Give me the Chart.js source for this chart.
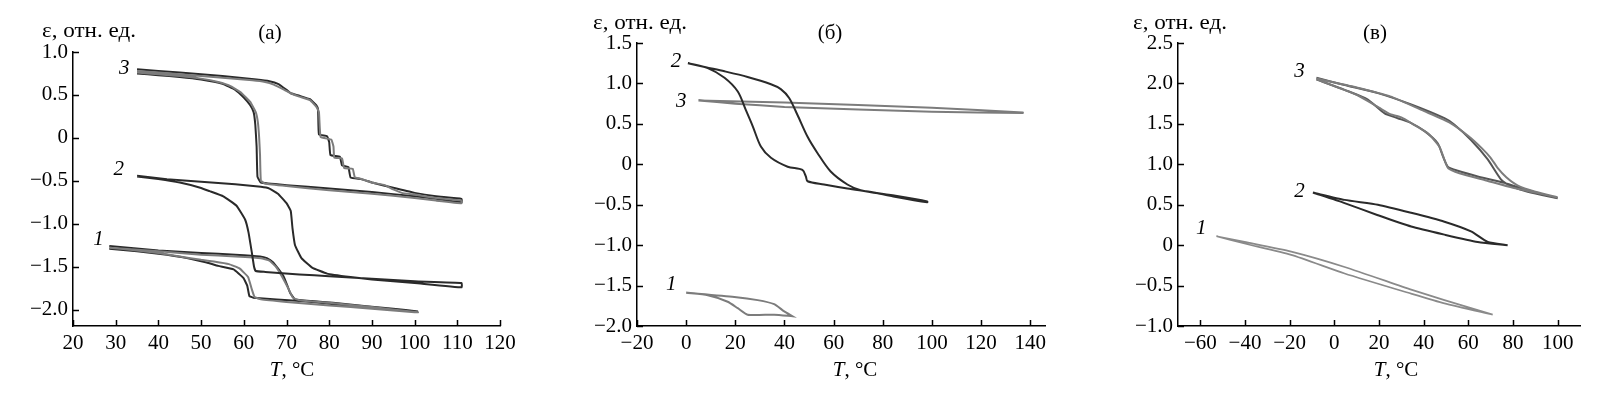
<!DOCTYPE html>
<html>
<head>
<meta charset="utf-8">
<script src="https://cdn.jsdelivr.net/npm/chart.js@4.4.1/dist/chart.umd.min.js"></script>
<style>
    body { margin: 0; background: #fff; width: 1618px; height: 399px; position: relative; overflow: hidden; }
    canvas { position: absolute; top: 0; }
</style>
</head>
<body>
<canvas id="chartA" width="540" height="399" style="left:0"></canvas>
<canvas id="chartB" width="538" height="399" style="left:540px"></canvas>
<canvas id="chartC" width="540" height="399" style="left:1078px"></canvas>
<script>
// Панель (а): кривые 1, 2, 3 (тёмный и серый циклы)
const a3T = [35, 45, 55, 63, 66, 68, 70, 71, 73, 75.5, 77, 77.4, 77.6, 79.5, 80, 80.3, 82.5, 83, 84.5, 85, 87.5, 90, 95, 100, 105, 111,
             111, 105, 100, 90, 80, 70, 64, 63.2, 63, 62.7, 62.3, 61.5, 60, 58, 55, 50, 45, 40, 35];
const a3E = [0.80, 0.76, 0.72, 0.68, 0.66, 0.63, 0.56, 0.52, 0.49, 0.45, 0.38, 0.33, 0.04, 0.02, -0.05, -0.20, -0.22, -0.32, -0.34, -0.46, -0.48, -0.52, -0.58, -0.64, -0.68, -0.71,
             -0.75, -0.71, -0.68, -0.63, -0.59, -0.55, -0.52, -0.45, -0.10, 0.15, 0.30, 0.38, 0.47, 0.56, 0.63, 0.68, 0.71, 0.73, 0.75];
const a3gT = [35, 45, 55, 62, 65, 67, 69.5, 71, 73, 75.5, 77, 77.6, 78, 80.5, 81, 81.2, 83, 83.5, 85.5, 86, 87, 90, 93, 95, 97, 100, 105, 111,
              111, 105, 100, 90, 80, 70, 65, 64, 63.8, 63.6, 63.3, 62.8, 61.5, 59.5, 57, 54, 50, 45, 40, 35];
const a3gE = [0.78, 0.74, 0.70, 0.67, 0.65, 0.62, 0.56, 0.52, 0.48, 0.44, 0.36, 0.30, 0.01, -0.02, -0.10, -0.23, -0.24, -0.35, -0.36, -0.46, -0.47, -0.52, -0.55, -0.60, -0.64, -0.66, -0.70, -0.73,
              -0.76, -0.73, -0.70, -0.65, -0.61, -0.56, -0.53, -0.50, -0.20, 0.0, 0.18, 0.30, 0.42, 0.52, 0.60, 0.65, 0.69, 0.72, 0.74, 0.76];
const a2T = [35, 42, 50, 58, 64, 66, 68, 70, 71, 71.4, 72, 73.5, 76, 79.5, 85, 90, 100, 111,
             111, 100, 90, 80, 73, 65, 62.8, 62.4, 61.9, 61.1, 60.3, 58.3, 55.2, 52, 49.8, 45, 40, 35];
const a2E = [-0.44, -0.48, -0.51, -0.54, -0.57, -0.59, -0.65, -0.76, -0.85, -1.05, -1.25, -1.40, -1.51, -1.58, -1.62, -1.65, -1.69, -1.74,
             -1.69, -1.67, -1.64, -1.61, -1.59, -1.56, -1.55, -1.50, -1.34, -1.10, -0.95, -0.79, -0.68, -0.62, -0.58, -0.52, -0.48, -0.45];
const a1T = [28.5, 40, 50, 58, 63.8, 65.4, 66.9, 68, 69.3, 70.2, 70.8, 72, 76, 80.9, 88.7, 95, 100.8,
             100.8, 95, 88.7, 80, 73.2, 62.2, 61.3, 60.8, 59.9, 57.6, 54, 51.3, 46.7, 42, 35, 28.5];
const a1E = [-1.26, -1.31, -1.34, -1.36, -1.38, -1.40, -1.45, -1.52, -1.61, -1.72, -1.80, -1.88, -1.90, -1.92, -1.96, -1.99, -2.02,
             -2.02, -1.99, -1.97, -1.93, -1.90, -1.86, -1.84, -1.72, -1.63, -1.53, -1.49, -1.45, -1.40, -1.36, -1.32, -1.29];
const a1gT = [28.5, 40, 50, 58, 64, 66, 67.5, 69, 70.5, 71.5, 73, 80, 90, 100.8,
              100, 90, 80, 70, 64, 62.5, 61.8, 61, 59, 56.5, 53, 50, 45, 40, 35, 28.5];
const a1gE = [-1.28, -1.32, -1.36, -1.38, -1.40, -1.43, -1.50, -1.62, -1.76, -1.86, -1.89, -1.92, -1.97, -2.03,
              -2.03, -1.99, -1.95, -1.91, -1.88, -1.85, -1.75, -1.62, -1.52, -1.47, -1.44, -1.42, -1.38, -1.34, -1.31, -1.28];

// Панель (б)
const b2T = [0.7, 8, 15.6, 25, 34.5, 38.5, 41.9, 45.3, 49.4, 53.4, 58.8, 65.6, 71, 83.2, 98.1,
             98.1, 83, 76.4, 65.6, 56.1, 49.4, 48.7, 47.3, 41.3, 34.5, 30.4, 27.1, 24.3, 21, 15.6, 8.8, 0.7];
const b2E = [1.25, 1.20, 1.15, 1.08, 0.99, 0.93, 0.82, 0.61, 0.34, 0.14, -0.09, -0.25, -0.32, -0.38, -0.46,
             -0.47, -0.39, -0.35, -0.30, -0.25, -0.21, -0.15, -0.07, -0.03, 0.08, 0.22, 0.47, 0.67, 0.90, 1.07, 1.19, 1.25];
const b3T = [5, 40, 100, 137, 137, 100, 40, 20, 5];
const b3E = [0.79, 0.765, 0.70, 0.64, 0.635, 0.65, 0.71, 0.75, 0.79];
const b1T = [0, 19.6, 29.1, 35.8, 39.9, 43.3, 43.3, 35.8, 25, 21, 16.9, 8.8, 0];
const b1E = [-1.587, -1.64, -1.68, -1.73, -1.82, -1.88, -1.88, -1.86, -1.86, -1.78, -1.70, -1.62, -1.59];

// Панель (в)
const c3T = [-8, 4.6, 19.5, 34.4, 49.3, 53.8, 61.2, 68.7, 74.7, 79.1, 86.6, 100,
             100, 86.6, 76.1, 64.2, 55.3, 50.8, 48.6, 46.3, 40.4, 34.4, 28.4, 22.5, 15, 4.6, -8];
const c3E = [2.07, 1.98, 1.88, 1.74, 1.57, 1.49, 1.30, 1.06, 0.81, 0.73, 0.66, 0.58,
             0.58, 0.68, 0.77, 0.85, 0.92, 0.97, 1.10, 1.26, 1.41, 1.51, 1.57, 1.63, 1.80, 1.92, 2.05];
const c3gT = [-8, 10, 25, 40, 52, 60, 66, 70, 73, 77, 82, 90, 100,
              100, 90, 80, 68, 56, 51, 49, 47, 42, 35, 30, 25, 20, 10, -8];
const c3gE = [2.06, 1.95, 1.84, 1.66, 1.51, 1.35, 1.20, 1.08, 0.96, 0.84, 0.74, 0.66, 0.59,
              0.59, 0.65, 0.71, 0.80, 0.89, 0.95, 1.08, 1.22, 1.38, 1.50, 1.58, 1.62, 1.70, 1.86, 2.05];
const c2T = [-9.6, 4.6, 19.5, 34.4, 49.3, 61.2, 68.7, 77.6, 77.6, 64.2, 49.3, 34.4, 19.5, 4.6, -9.6];
const c2E = [0.65, 0.56, 0.50, 0.40, 0.29, 0.17, 0.04, 0.0, 0.0, 0.04, 0.13, 0.23, 0.37, 0.52, 0.65];
const c1T = [-52.8, -40.2, -19.3, 4.6, 34.4, 49.3, 70.9, 70.9, 49.3, 34.4, 4.6, -19.3, -40.2, -52.8];
const c1E = [0.11, 0.04, -0.08, -0.27, -0.55, -0.68, -0.86, -0.86, -0.72, -0.60, -0.35, -0.12, 0.02, 0.11];

// Деления осей
const xTicksA = [20, 30, 40, 50, 60, 70, 80, 90, 100, 110, 120];
const yTicksA = [-2.0, -1.5, -1.0, -0.5, 0, 0.5, 1.0];
const xTicksB = [-20, 0, 20, 40, 60, 80, 100, 120, 140];
const yTicksB = [-2.0, -1.5, -1.0, -0.5, 0, 0.5, 1.0, 1.5];
const xTicksC = [-60, -40, -20, 0, 20, 40, 60, 80, 100];
const yTicksC = [-1.0, -0.5, 0, 0.5, 1.0, 1.5, 2.0, 2.5];

// Номера кривых
const numText = ['1', '2', '3'];
const numTA = [26, 30.7, 32], numEA = [-1.18, -0.37, 0.81];
const numTB = [-6.1, -4.1, -2], numEB = [-1.49, 1.27, 0.78];
const numTC = [-59.6, -15.6, -15.6], numEC = [0.21, 0.66, 2.15];

const DARK = '#2a2a2a';
const GRAY = '#7c7c7c';
const FONT = '"Liberation Serif", "Times New Roman", serif';
const FS = 21;

Chart.defaults.font.family = FONT;
Chart.defaults.font.size = FS;
Chart.defaults.color = '#000';

function minus(s) {
    return s.replace('-', '\u2212');
}

// Рисуем внутренние засечки, подписи и номера кривых
const annot = {
    id: 'annot',
    afterDraw(chart, args, o) {
        const { ctx, chartArea, scales } = chart;
        const x = scales.x, y = scales.y;
        ctx.save();
        ctx.strokeStyle = '#000';
        ctx.lineWidth = 1.5;
        ctx.beginPath();
        x.ticks.forEach(t => {
            const px = Math.round(x.getPixelForValue(t.value)) + 0.5;
            ctx.moveTo(px, chartArea.bottom);
            ctx.lineTo(px, chartArea.bottom - 6);
        });
        y.ticks.forEach(t => {
            const py = Math.round(y.getPixelForValue(t.value)) + 0.5;
            ctx.moveTo(chartArea.left, py);
            ctx.lineTo(chartArea.left + 6, py);
        });
        ctx.stroke();

        const reg = FS + 'px ' + FONT, ita = 'italic ' + FS + 'px ' + FONT;
        ctx.fillStyle = '#000';
        ctx.textBaseline = 'middle';
        ctx.font = reg;
        ctx.textAlign = 'left';
        // подпись оси чуть растянута по ширине, как в оригинале
        ctx.save();
        ctx.translate(o.yTitleX, o.yTitleY);
        ctx.scale(1.1, 1);
        ctx.fillText('ε, отн. ед.', 0, 0);
        ctx.restore();
        ctx.textAlign = 'center';
        ctx.fillText(o.panel, o.panelX, 33);

        // T курсивом, остальное прямым
        ctx.textAlign = 'left';
        ctx.font = ita;
        const wT = ctx.measureText('T').width;
        ctx.font = reg;
        const wRest = ctx.measureText(', °C').width;
        const x0 = o.xTitleX - (wT + wRest) / 2;
        ctx.font = ita;
        ctx.fillText('T', x0, 370);
        ctx.font = reg;
        ctx.fillText(', °C', x0 + wT, 370);

        ctx.font = ita;
        ctx.textAlign = 'center';
        numText.forEach((s, i) => {
            ctx.fillText(s, x.getPixelForValue(o.numT[i]), y.getPixelForValue(o.numE[i]));
        });
        ctx.restore();
    }
};

function loop(t, e, color, width, tension) {
    return {
        data: t.map((v, i) => ({ x: v, y: e[i] })),
        showLine: true,
        pointRadius: 0,
        borderColor: color,
        borderWidth: width || 2,
        tension: tension || 0.1,
        fill: false
    };
}

function makeChart(id, c) {
    return new Chart(document.getElementById(id), {
        type: 'scatter',
        data: { datasets: c.loops },
        options: {
            responsive: false,
            animation: false,
            devicePixelRatio: 1,
            layout: { padding: { left: 0, right: c.padRight, top: c.top, bottom: 0 } },
            plugins: {
                legend: { display: false },
                tooltip: { enabled: false },
                annot: c.text
            },
            scales: {
                x: {
                    type: 'linear', min: c.xMin, max: c.xMax,
                    afterBuildTicks: s => { s.ticks = c.xTicks.map(v => ({ value: v })); },
                    afterFit: s => { s.height = 399 - c.bottom; },
                    grid: { display: false, drawTicks: false },
                    border: { color: '#000', width: 1.5 },
                    ticks: { padding: 5, maxRotation: 0, autoSkip: false, callback: v => minus(String(v)) }
                },
                y: {
                    type: 'linear', min: c.yMin, max: c.yMax,
                    afterBuildTicks: s => { s.ticks = c.yTicks.map(v => ({ value: v })); },
                    afterFit: s => { s.width = c.left; },
                    grid: { display: false, drawTicks: false },
                    border: { color: '#000', width: 1.5 },
                    ticks: { padding: 5, autoSkip: false, callback: v => v === 0 ? '0' : minus(v.toFixed(1)) }
                }
            }
        },
        plugins: [annot]
    });
}

makeChart('chartA', {
    left: 73, padRight: 40, top: 52, bottom: 326,
    xMin: 20, xMax: 120, yMin: -2.19, yMax: 1.0,
    xTicks: xTicksA, yTicks: yTicksA,
    loops: [
        loop(a3gT, a3gE, GRAY), loop(a3T, a3E, DARK),
        loop(a2T, a2E, DARK),
        loop(a1gT, a1gE, GRAY), loop(a1T, a1E, DARK)
    ],
    text: { yTitleX: 42, yTitleY: 31, panel: '(а)', panelX: 270, xTitleX: 292, numT: numTA, numE: numEA }
});

makeChart('chartB', {
    left: 97, padRight: 33, top: 43, bottom: 326,
    xMin: -20, xMax: 146, yMin: -2.0, yMax: 1.5,
    xTicks: xTicksB, yTicks: yTicksB,
    loops: [
        loop(b2T, b2E, DARK, 2, 0.3),
        loop(b3T, b3E, GRAY),
        loop(b1T, b1E, GRAY, 2, 0.2)
    ],
    text: { yTitleX: 53, yTitleY: 23, panel: '(б)', panelX: 290, xTitleX: 315, numT: numTB, numE: numEB }
});

makeChart('chartC', {
    left: 100, padRight: 38, top: 43, bottom: 326,
    xMin: -70, xMax: 110, yMin: -1.0, yMax: 2.5,
    xTicks: xTicksC, yTicks: yTicksC,
    loops: [
        loop(c3gT, c3gE, GRAY, 2, 0.2), loop(c3T, c3E, '#555', 2, 0.2),
        loop(c2T, c2E, DARK, 2, 0.2),
        loop(c1T, c1E, '#8a8a8a', 1.7, 0.2)
    ],
    text: { yTitleX: 55, yTitleY: 23, panel: '(в)', panelX: 297, xTitleX: 318, numT: numTC, numE: numEC }
});
</script>
</body>
</html>
